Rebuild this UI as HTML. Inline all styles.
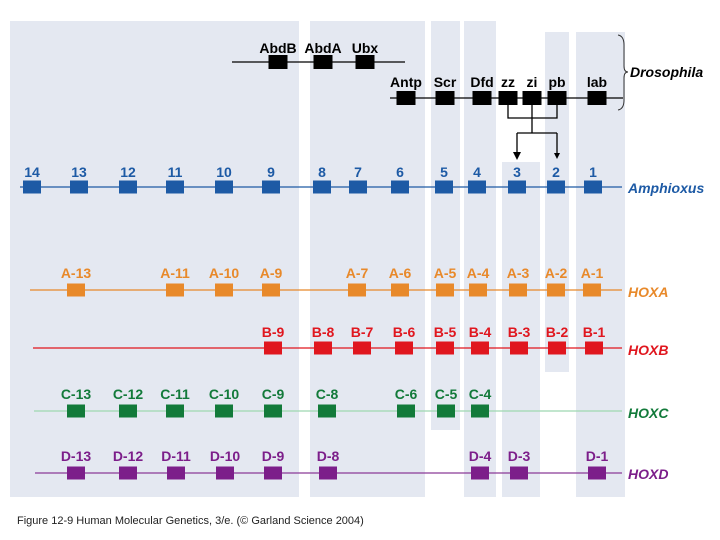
<!DOCTYPE html>
<html><head><meta charset="utf-8"><style>
body{margin:0;width:720px;height:540px;background:#fff;overflow:hidden;font-family:"Liberation Sans",sans-serif}
svg{display:block}
</style></head><body>
<svg id="c" width="720" height="540" xmlns="http://www.w3.org/2000/svg">
<g id="panels" fill="#e4e8f1">
<rect x="10" y="21" width="289" height="476"/>
<rect x="310" y="21" width="115" height="476"/>
<rect x="431" y="21" width="29" height="409"/>
<rect x="464" y="21" width="32" height="476"/>
<rect x="502" y="162" width="38" height="335"/>
<rect x="545" y="32" width="24" height="340"/>
<rect x="576" y="32" width="49" height="465"/>
</g>
<g id="g"></g>
<g stroke="#000" stroke-width="1.3" fill="none">
<path d="M508 105V118H557V105M532 105V133M517 133H557M517 133V154M557 133V154"/>
</g>
<path d="M513 152L517 160L521 152Z M554 153L557 159L560 153Z" fill="#000"/>
<path d="M618 35Q624 36 624 45V66Q624 72 628 72Q624 72 624 78V100Q624 109 618 110" stroke="#333" stroke-width="1" fill="none"/>
<text x="17" y="524" font-size="11" fill="#222">Figure 12-9  Human Molecular Genetics, 3/e.  (© Garland Science 2004)</text>
</svg>
<script>
const rows=["Drosophila-posterior","Drosophila-anterior","Amphioxus","HOXA","HOXB","HOXC","HOXD"];
const dp1Labels=["AbdB","AbdA","Ubx"];
const dp1X=[278,323,365];
const dp2Labels=["Antp","Scr","Dfd","zz","zi","pb","lab"];
const dp2X=[406,445,482,508,532,557,597];
const amphLabels=["14","13","12","11","10","9","8","7","6","5","4","3","2","1"];
const amphX=[32,79,128,175,224,271,322,358,400,444,477,517,556,593];
const hoxaLabels=["A-13","A-11","A-10","A-9","A-7","A-6","A-5","A-4","A-3","A-2","A-1"];
const hoxaX=[76,175,224,271,357,400,445,478,518,556,592];
const hoxbLabels=["B-9","B-8","B-7","B-6","B-5","B-4","B-3","B-2","B-1"];
const hoxbX=[273,323,362,404,445,480,519,557,594];
const hoxcLabels=["C-13","C-12","C-11","C-10","C-9","C-8","C-6","C-5","C-4"];
const hoxcX=[76,128,175,224,273,327,406,446,480];
const hoxdLabels=["D-13","D-12","D-11","D-10","D-9","D-8","D-4","D-3","D-1"];
const hoxdX=[76,128,176,225,273,328,480,519,597];
const NS="http://www.w3.org/2000/svg";
const G=document.getElementById('g');
function mk(t,a){const e=document.createElementNS(NS,t);for(const k in a)e.setAttribute(k,a[k]);G.appendChild(e);return e;}
function track(name,labels,xs,y,x0,x1,col,lineCol,lw,bw,bh,fs,ly,title,tx,ty){
  const l=mk('line',{x1:x0,x2:x1,y1:y,y2:y,stroke:lineCol,'stroke-width':lw});
  
  
  labels.forEach((lab,i)=>{
    const r=mk('rect',{x:xs[i]-bw/2,y:y-bh/2,width:bw,height:bh,fill:col});
    
    
    const t=mk('text',{x:xs[i],y:ly,'text-anchor':'middle','font-size':fs,'font-weight':'bold',fill:col});
    t.textContent=lab;
    
    
  });
  if(title){
    const t=mk('text',{x:tx,y:ty,'font-size':14,'font-style':'italic','font-weight':'bold',fill:col=='#000'?'#000':col});
    t.textContent=title;
    
    
  }
}
track('drosophila-posterior',dp1Labels,dp1X,62,232,405,'#000','#000',1.3,19,14,14,53,null);
track('drosophila-anterior',dp2Labels,dp2X,98,390,623,'#000','#000',1.3,19,14,14,87,'Drosophila',630,77);
track('amphioxus',amphLabels,amphX,187,20,622,'#1d5aa5','#1d5aa5',1.3,18,13,14,177,'Amphioxus',628,193);
track('hoxa',hoxaLabels,hoxaX,290,30,622,'#e8892a','#e8892a',1.3,18,13,14,278,'HOXA',628,297);
track('hoxb',hoxbLabels,hoxbX,348,33,622,'#e0161e','#e0161e',1.3,18,13,14,337,'HOXB',628,355);
track('hoxc',hoxcLabels,hoxcX,411,34,622,'#127a3a','#9ed8b0',1.3,18,13,14,399,'HOXC',628,418);
track('hoxd',hoxdLabels,hoxdX,473,35,622,'#7c1e8a','#8a3a98',1.3,18,13,14,461,'HOXD',628,479);
</script>
</body></html>
